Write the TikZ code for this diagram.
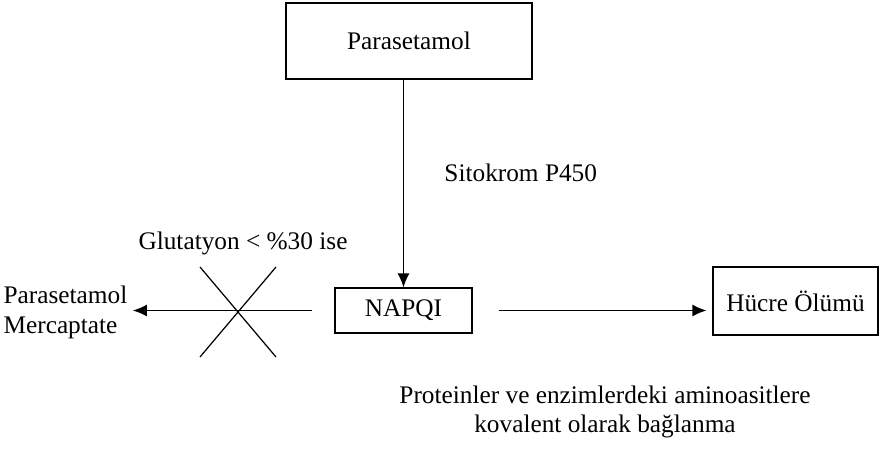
\documentclass[tikz,border=0pt]{standalone}
\usepackage{fontspec}
\setmainfont{Liberation Serif}
\usetikzlibrary{arrows.meta}
\begin{document}
\begin{tikzpicture}[line width=0.7pt, >={Latex[length=0.28cm,width=0.24cm]},
		kutu/.style={draw, minimum width=#1, inner sep=0pt},
		yazi/.style={font=\fontsize{14.4}{17}\selectfont}]
				\useasboundingbox (0,0) rectangle (17.66,9);

				% boxes
				\node[kutu=4.92cm, minimum height=1.52cm, yazi] (para) at (8.18,8.18) {Parasetamol};
				\node[kutu=2.74cm, minimum height=0.9cm, yazi] (napqi) at (8.07,2.79) {NAPQI};
				\node[kutu=3.3cm, minimum height=1.36cm, yazi] (olum) at (15.91,2.98) {Hücre Ölümü};

				% labels
				\node[yazi, anchor=west] (sito) at (8.76,5.54) {Sitokrom P450};
				\node[yazi] (glut) at (4.86,4.14) {Glutatyon < \%30 ise};
				\node[yazi, align=left, anchor=west, inner sep=0pt] (merc) at (0.06,2.75) {Parasetamol\\Mercaptate};
				\node[yazi, align=center] (bag) at (12.1,0.76) {Proteinler ve enzimlerdeki aminoasitlere\\kovalent olarak bağlanma};

				% arrows
				\draw[->] (napqi.north |- para.south) -- (napqi.north);
				\draw[->, shorten <=0.52cm, shorten >=0.12cm] (napqi.east) -- (napqi.east -| olum.west);
				\draw[->, shorten <=0.44cm, shorten >=0.1cm] (napqi.west) -- (napqi.west -| merc.east);

				% blocked path
				\coordinate (kes) at (4.76,2.76);
				\draw ([shift={(-0.76,0.9)}]kes) -- ([shift={(0.76,-0.9)}]kes);
				\draw ([shift={(0.76,0.9)}]kes) -- ([shift={(-0.76,-0.9)}]kes);
\end{tikzpicture}
\end{document}
